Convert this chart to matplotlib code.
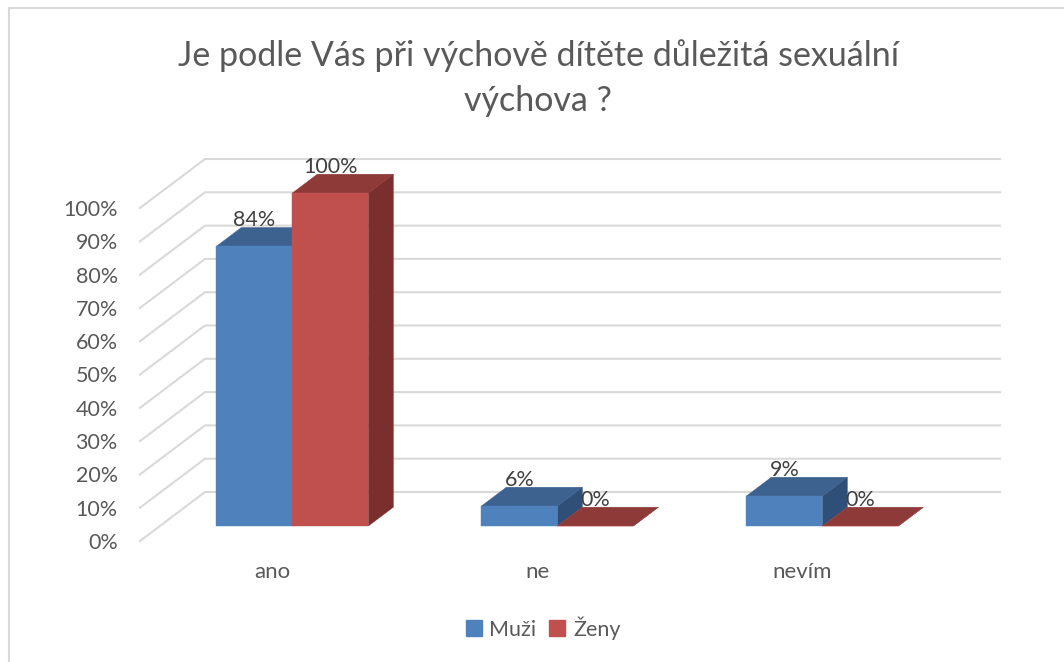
#!/usr/bin/env python

import matplotlib
matplotlib.use("Agg")
import matplotlib.pyplot as plt
from matplotlib.lines import Line2D
from matplotlib.patches import Patch

plt.rcParams['font.family'] = ['Lato', 'DejaVu Sans']

title = "Je podle Vás při výchově dítěte důležitá sexuální\nvýchova ?"
categories = ["ano", "ne", "nevím"]
muzi = [84, 6, 9]
zeny = [100, 0, 0]
series_names = ["Muži", "Ženy"]
yticks = [0, 10, 20, 30, 40, 50, 60, 70, 80, 90, 100]
ytick_labels = ["0%", "10%", "20%", "30%", "40%", "50%", "60%", "70%", "80%", "90%", "100%"]

blue = ("#4F81BD", "#3E628F", "#2F4F78")
red = ("#C0504D", "#8E3A38", "#7A2F2E")
text_color = "#595959"
grid_color = "#D9D9D9"

W, H = 1064, 662
AX_L, AX_R, AX_B, AX_T = 140, 935, 541, 208   # front plane of the axes, in pixels
DEPTH_X = 65 / ((AX_R - AX_L) / 3.0)          # full depth in data units
DEPTH_Y = 49 / ((AX_B - AX_T) / 100.0)
BAR_W = 76 / 265.0
D_FRONT, D_BACK = 0.306, 0.69


def proj(x, y, d):
    ### oblique projection: d=0 front of the floor, d=1 back wall
    return x + d * DEPTH_X, y + d * DEPTH_Y


def draw_bar(ax, x, value, colors):
    front, top, side = colors
    x1 = x + BAR_W
    corners_front = [proj(x, 0, D_FRONT), proj(x1, 0, D_FRONT),
                     proj(x1, value, D_FRONT), proj(x, value, D_FRONT)]
    corners_top = [proj(x, value, D_FRONT), proj(x1, value, D_FRONT),
                   proj(x1, value, D_BACK), proj(x, value, D_BACK)]
    corners_side = [proj(x1, 0, D_FRONT), proj(x1, 0, D_BACK),
                    proj(x1, value, D_BACK), proj(x1, value, D_FRONT)]
    for corners, color in [(corners_side, side), (corners_top, top), (corners_front, front)]:
        xs, ys = zip(*corners)
        ax.fill(xs, ys, color=color, lw=0.3, clip_on=False, zorder=3)
    lx, ly = proj(x + BAR_W / 2, value, D_FRONT)
    # the labels sit above the axes box for the tall bar, so no clipping here
    ax.annotate("{}%".format(value), (lx, ly), xytext=(0, 18.7), textcoords="offset points",
                ha="center", va="center", fontsize=15.5, color="#404040", zorder=5,
                annotation_clip=False)


fig = plt.figure(figsize=(W / 100, H / 100), dpi=100)
ax = fig.add_axes([AX_L / W, (H - AX_B) / H, (AX_R - AX_L) / W, (AX_B - AX_T) / H])
ax.set_xlim(-0.5, 2.5)
ax.set_ylim(0, 100)

### chart frame, cut off by the picture on the right and at the bottom
fig.add_artist(Line2D([9 / W, 9 / W, 1], [0, 1 - 8 / H, 1 - 8 / H], color=grid_color, lw=1.5))

### gridlines on the side and back wall
for y in yticks:
    x0, y0 = proj(-0.5, y, 0)
    x1, y1 = proj(-0.5, y, 1)
    x2, y2 = proj(2.5, y, 1)
    ax.plot([x0, x1, x2], [y0, y1, y2], color=grid_color, lw=1.5, clip_on=False, zorder=1)

for i in range(len(categories)):
    draw_bar(ax, i - BAR_W, muzi[i], blue)
    draw_bar(ax, i, zeny[i], red)

ax.set_xticks(range(len(categories)))
ax.set_xticklabels(categories)
ax.set_yticks(yticks)
ax.set_yticklabels(ytick_labels)
ax.tick_params(axis="y", length=0, pad=16, labelsize=15.5, labelcolor=text_color)
ax.tick_params(axis="x", length=0, pad=15, labelsize=16, labelcolor=text_color)
for spine in ax.spines.values():
    spine.set_visible(False)
ax.patch.set_alpha(0)

fig.text(538 / W, 1 - 78 / H, title, ha="center", va="center", fontsize=24.5,
         color=text_color, linespacing=1.5)

handles = [Patch(color=blue[0]), Patch(color=red[0])]
fig.legend(handles, series_names, loc="center", bbox_to_anchor=(543 / W, 1 - 628 / H),
           ncol=2, frameon=False, fontsize=15.5, labelcolor=text_color,
           handlelength=0.75, handleheight=0.75, handletextpad=0.35, columnspacing=0.6)

plt.savefig("out.png", dpi=100)
